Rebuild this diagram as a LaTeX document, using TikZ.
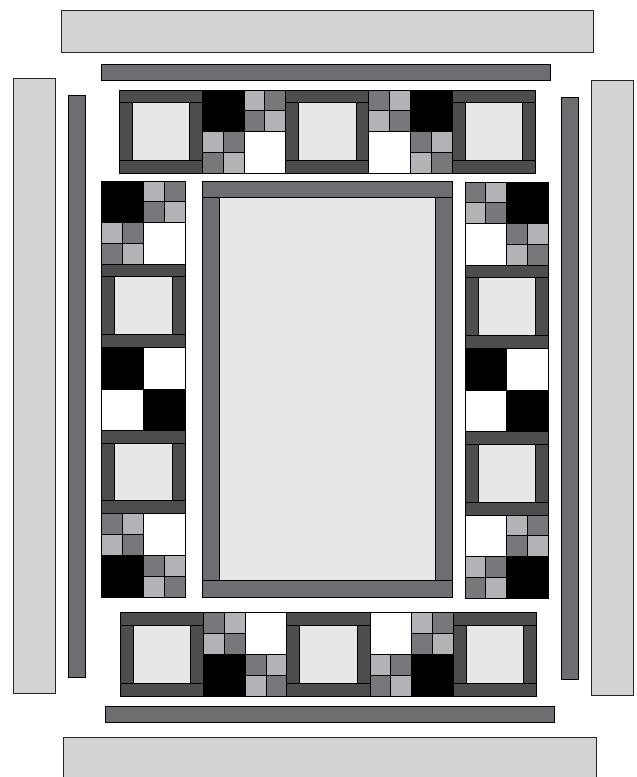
\documentclass[tikz,border=0pt]{standalone}
\definecolor{outerbar}{HTML}{D1D3D4}
\definecolor{thinbar}{HTML}{6D6E71}
\definecolor{frameband}{HTML}{4D4D4F}
\definecolor{paleface}{HTML}{E6E7E8}
\definecolor{smalldark}{HTML}{77787B}
\definecolor{smalllight}{HTML}{B1B3B6}
\tikzset{
  edge/.style={draw=black,line width=0.8pt,line join=miter},
  outerpiece/.style={edge,fill=outerbar,draw=black!85},
  thinpiece/.style={edge,fill=thinbar},
  bandpiece/.style={edge,fill=frameband},
  facepiece/.style={edge,fill=paleface},
  darksq/.style={edge,fill=smalldark},
  lightsq/.style={edge,fill=smalllight},
  blacksq/.style={edge,fill=black},
  whitesq/.style={edge,fill=white}
}
% #1 style, #2 x, #3 y, #4 width, #5 height
\newcommand{\qbox}[5]{\path[#1] (#2,#3) rectangle ++(#4,#5);}
\newcommand{\cellk}[3]{\qbox{blacksq}{#1}{#2}{#3}{#3}}
\newcommand{\cellw}[3]{\qbox{whitesq}{#1}{#2}{#3}{#3}}
\newcommand{\cella}[3]{%
  \qbox{lightsq}{#1}{#2}{#3/2}{#3/2}%
  \qbox{darksq}{#1+#3/2}{#2}{#3/2}{#3/2}%
  \qbox{darksq}{#1}{#2+#3/2}{#3/2}{#3/2}%
  \qbox{lightsq}{#1+#3/2}{#2+#3/2}{#3/2}{#3/2}}
\newcommand{\cellb}[3]{%
  \qbox{darksq}{#1}{#2}{#3/2}{#3/2}%
  \qbox{lightsq}{#1+#3/2}{#2}{#3/2}{#3/2}%
  \qbox{lightsq}{#1}{#2+#3/2}{#3/2}{#3/2}%
  \qbox{darksq}{#1+#3/2}{#2+#3/2}{#3/2}{#3/2}}
% quilt block: x,y,TL,TR,BL,BR
\newcommand{\quiltblk}[6]{%
  \csname cell#3\endcsname{#1}{#2}{41.6}%
  \csname cell#4\endcsname{#1+41.6}{#2}{41.6}%
  \csname cell#5\endcsname{#1}{#2+41.6}{41.6}%
  \csname cell#6\endcsname{#1+41.6}{#2+41.6}{41.6}}
% framed square: x,y
\newcommand{\frameblk}[2]{%
  \qbox{facepiece}{#1+13}{#2+12.6}{57.4}{57.6}%
  \qbox{bandpiece}{#1}{#2}{83.3}{12.6}%
  \qbox{bandpiece}{#1}{#2+70.2}{83.3}{13}%
  \qbox{bandpiece}{#1}{#2+12.6}{13}{57.6}%
  \qbox{bandpiece}{#1+70.4}{#2+12.6}{12.9}{57.6}}
\begin{document}
\begin{tikzpicture}[x=1pt,y=-1pt]
\useasboundingbox (0,0) rectangle (637,777);
% outer bars
\qbox{outerpiece}{61}{10.6}{532.2}{41.6}
\qbox{outerpiece}{63.6}{737.6}{532.4}{42}
\qbox{outerpiece}{13.4}{78.6}{41.8}{615.2}
\qbox{outerpiece}{591.6}{80}{41.8}{615}
% thin bars
\qbox{thinpiece}{101.2}{64}{449.4}{16.6}
\qbox{thinpiece}{105}{706}{449.6}{16.8}
\qbox{thinpiece}{68.4}{95}{16.8}{582.2}
\qbox{thinpiece}{561.4}{97.6}{16.8}{582.2}
% top row
\frameblk{119.3}{90}
\quiltblk{202.4}{90}{k}{a}{a}{w}
\frameblk{285.6}{90}
\quiltblk{368.8}{90}{b}{k}{w}{b}
\frameblk{452}{90}
% bottom row
\frameblk{120.3}{612.7}
\quiltblk{203.5}{612.7}{b}{w}{k}{b}
\frameblk{286.7}{612.7}
\quiltblk{370}{612.7}{w}{a}{a}{k}
\frameblk{453.3}{612.7}
% left column
\quiltblk{101.8}{181}{k}{a}{a}{w}
\frameblk{101.8}{264.2}
\quiltblk{101.8}{347.4}{k}{w}{w}{k}
\frameblk{101.8}{430.6}
\quiltblk{101.8}{513.8}{b}{w}{k}{b}
% right column
\quiltblk{465}{182}{b}{k}{w}{b}
\frameblk{465}{265.2}
\quiltblk{465}{348.4}{k}{w}{w}{k}
\frameblk{465}{431.8}
\quiltblk{465}{515}{w}{a}{a}{k}
% centre panel
\qbox{facepiece}{219}{197.4}{216.3}{382.6}
\qbox{thinpiece}{202.3}{181}{250}{16.4}
\qbox{thinpiece}{202.3}{580}{250}{17}
\qbox{thinpiece}{202.3}{197.4}{16.7}{382.6}
\qbox{thinpiece}{435.3}{197.4}{17}{382.6}
\end{tikzpicture}
\end{document}
